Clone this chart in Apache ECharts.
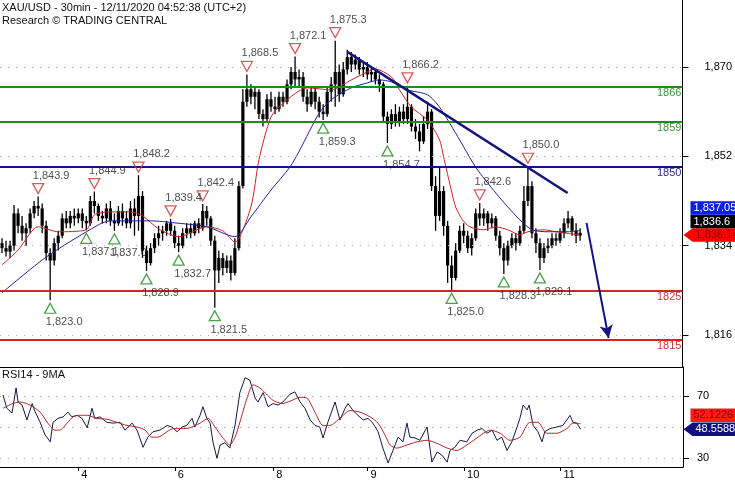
<!DOCTYPE html>
<html><head><meta charset="utf-8">
<script src="https://cdn.jsdelivr.net/npm/echarts@6/dist/echarts.min.js"></script>
<style>html,body{margin:0;padding:0;background:#fff}#c{width:735px;height:480px}</style>
</head><body><div id="c"></div>
<script>
// ---- DATA ----
const titleText = 'XAU/USD - 30min - 12/11/2020 04:52:38 (UTC+2)';
const subText = 'Research \u00a9 TRADING CENTRAL';
const rsiTitle = 'RSI14 - 9MA';

// bar rows: [open, close, low, high]
const bars = [
[1834.5,1833.5,1832.5,1835.5],[1833.5,1832.8,1831.8,1835.0],[1832.8,1834.0,1831.5,1835.0],[1834.0,1840.5,1833.0,1842.2],[1840.5,1838.0,1836.5,1841.5],
[1838.0,1836.5,1835.0,1840.0],[1836.5,1837.5,1834.0,1838.5],[1837.5,1840.5,1836.5,1841.5],[1840.5,1842.0,1839.5,1843.0],[1842.0,1841.5,1840.0,1843.9],
[1841.5,1838.0,1836.5,1842.5],[1838.0,1832.5,1831.0,1839.0],[1832.5,1831.0,1823.0,1833.5],[1831.0,1834.5,1830.0,1835.5],[1834.5,1836.0,1833.0,1837.0],
[1836.0,1839.5,1835.5,1840.5],[1839.5,1838.5,1837.5,1841.0],[1838.5,1840.0,1837.5,1841.0],[1840.0,1839.5,1838.0,1841.5],[1839.5,1840.5,1838.5,1841.5],
[1840.5,1839.0,1837.5,1841.5],[1839.0,1838.5,1837.1,1840.0],[1838.5,1843.0,1838.0,1844.0],[1843.0,1842.0,1840.5,1844.9],[1842.0,1840.0,1839.0,1842.5],
[1840.0,1839.5,1838.5,1841.0],[1839.5,1841.5,1838.5,1842.5],[1841.5,1839.0,1838.0,1843.0],[1839.0,1838.5,1837.0,1840.5],[1838.5,1841.0,1838.0,1842.0],
[1841.0,1839.5,1838.0,1842.5],[1839.5,1838.5,1837.5,1841.0],[1838.5,1841.5,1837.5,1843.0],[1841.5,1840.0,1836.0,1843.5],[1840.0,1844.0,1837.0,1848.2],
[1844.0,1833.0,1831.5,1845.0],[1833.0,1830.5,1828.9,1834.0],[1830.5,1833.5,1830.0,1834.5],[1833.5,1835.5,1832.5,1836.5],[1835.5,1836.5,1834.0,1838.0],
[1836.5,1837.0,1835.0,1838.0],[1837.0,1838.5,1836.0,1839.0],[1838.5,1837.0,1836.0,1839.4],[1837.0,1834.5,1833.5,1838.0],[1834.5,1834.0,1832.7,1836.0],
[1834.0,1836.5,1833.5,1837.5],[1836.5,1837.5,1835.5,1838.5],[1837.5,1836.5,1835.5,1838.5],[1836.5,1838.5,1836.0,1839.0],[1838.5,1837.5,1836.5,1839.5],
[1837.5,1841.0,1837.0,1842.4],[1841.0,1839.5,1838.0,1842.0],[1839.5,1835.0,1834.0,1840.0],[1835.0,1829.0,1821.5,1836.0],[1829.0,1831.5,1826.5,1833.0],
[1831.5,1829.5,1828.0,1832.5],[1829.5,1831.0,1828.5,1832.0],[1831.0,1828.5,1827.0,1832.0],[1828.5,1833.5,1828.0,1835.5],[1833.5,1846.0,1833.0,1847.0],
[1846.0,1863.0,1845.5,1865.5],[1863.0,1865.5,1862.0,1868.5],[1865.5,1864.0,1862.5,1866.5],[1864.0,1865.0,1861.5,1866.0],[1865.0,1860.5,1859.5,1865.5],
[1860.5,1859.5,1858.0,1861.5],[1859.5,1863.5,1859.0,1864.5],[1863.5,1862.0,1861.0,1865.0],[1862.0,1861.5,1860.5,1864.0],[1861.5,1864.0,1861.0,1865.0],
[1864.0,1863.0,1862.0,1865.0],[1863.0,1866.5,1862.5,1867.5],[1866.5,1869.0,1865.5,1870.0],[1869.0,1867.5,1866.0,1872.1],[1867.5,1868.0,1866.0,1869.5],
[1868.0,1864.0,1863.0,1869.0],[1864.0,1862.5,1861.0,1865.5],[1862.5,1865.0,1862.0,1866.0],[1865.0,1863.0,1861.5,1866.0],[1863.0,1861.0,1859.8,1864.0],
[1861.0,1860.5,1859.3,1862.5],[1860.5,1865.0,1860.0,1866.0],[1865.0,1866.5,1863.0,1868.0],[1866.5,1869.0,1862.0,1875.3],[1869.0,1864.5,1863.0,1870.5],
[1864.5,1869.5,1864.0,1871.0],[1869.5,1872.0,1868.5,1873.5],[1872.0,1870.5,1869.0,1873.0],[1870.5,1871.5,1869.5,1872.5],[1871.5,1869.5,1868.5,1872.0],
[1869.5,1870.0,1868.0,1871.0],[1870.0,1868.5,1867.5,1871.0],[1868.5,1869.0,1867.0,1870.0],[1869.0,1867.5,1866.5,1869.5],[1867.5,1866.5,1865.0,1868.5],
[1866.5,1860.0,1859.0,1867.0],[1860.0,1858.5,1854.7,1861.0],[1858.5,1860.5,1857.5,1861.5],[1860.5,1859.0,1858.0,1862.5],[1859.0,1861.0,1858.0,1862.0],
[1861.0,1859.5,1858.5,1862.5],[1859.5,1862.0,1858.5,1866.2],[1862.0,1858.0,1857.0,1862.5],[1858.0,1857.0,1855.5,1859.5],[1857.0,1855.0,1853.0,1858.5],
[1855.0,1858.5,1854.5,1860.0],[1858.5,1861.0,1857.5,1863.0],[1861.0,1846.0,1845.0,1861.5],[1846.0,1840.0,1837.0,1848.0],[1840.0,1845.0,1839.0,1849.8],
[1845.0,1838.0,1836.0,1846.0],[1838.0,1830.0,1826.5,1839.0],[1830.0,1827.5,1825.0,1832.0],[1827.5,1833.0,1827.0,1834.5],[1833.0,1837.0,1832.5,1838.0],
[1837.0,1836.0,1834.5,1838.5],[1836.0,1833.5,1832.5,1837.0],[1833.5,1835.5,1832.0,1836.5],[1835.5,1840.5,1835.0,1841.5],[1840.5,1839.5,1838.0,1842.6],
[1839.5,1840.5,1838.0,1841.5],[1840.5,1838.5,1837.0,1841.0],[1838.5,1839.5,1837.5,1840.5],[1839.5,1836.0,1835.0,1840.0],[1836.0,1833.5,1832.0,1837.0],
[1833.5,1831.0,1828.3,1834.5],[1831.0,1834.0,1830.0,1835.0],[1834.0,1835.5,1833.5,1836.5],[1835.5,1834.5,1833.0,1836.5],[1834.5,1837.0,1834.0,1838.0],
[1837.0,1843.0,1836.5,1846.0],[1843.0,1846.0,1842.0,1850.0],[1846.0,1836.5,1835.5,1847.0],[1836.5,1834.5,1832.5,1837.5],[1834.5,1831.5,1829.1,1835.5],
[1831.5,1833.5,1830.5,1834.5],[1833.5,1834.0,1832.5,1835.5],[1834.0,1835.5,1833.5,1836.5],[1835.5,1835.0,1834.0,1836.5],[1835.0,1836.5,1834.5,1837.5],
[1836.5,1838.5,1835.5,1839.5],[1838.5,1839.5,1837.5,1841.0],[1839.5,1837.0,1836.0,1840.0],[1837.0,1836.0,1834.5,1838.5],[1836.0,1836.6,1835.0,1837.5]
];

// moving averages [barIndex, value]
const maRed = [[0,1830.1],[4,1833.1],[9,1837.8],[14,1836.8],[21,1837.2],[23,1840.2],[27,1840.8],[32,1840.8],[35,1840.0],[39,1837.4],[44,1835.8],[51,1837.8],[55,1837],[58,1834.7],[62,1841.8],[64,1851.3],[67,1859.9],[70,1862.7],[76,1865.8],[82,1865.4],[87,1867.4],[92,1869.4],[93,1869.6],[97,1868.0],[99,1865.4],[102,1861.9],[106,1859.3],[109,1855.3],[110,1851.9],[111.5,1846.6],[113,1841.8],[114.7,1839.2],[116.5,1837.8],[120,1837.2],[123,1837.8],[126,1837.2],[129,1836.2],[131,1836.8],[135,1837.2],[138,1836.8],[144,1836.14]];
const maBlue = [[0,1824.5],[11,1831.7],[24,1838.2],[27,1839.0],[37,1839.0],[43,1838.6],[51,1837.8],[58,1835.8],[62,1839.8],[67,1845.2],[71.7,1849.8],[74.2,1853.3],[79,1860.7],[82,1863.4],[87,1865.8],[91,1866.8],[94,1867.4],[97,1867.0],[101,1865.4],[106,1864.4],[109,1861.9],[114,1855.3],[118,1849.8],[123,1844.6],[126,1841.8],[129,1839.2],[132,1837.2],[136,1836.8],[141,1836.8],[144,1837.05]];

// RSI14 and its 9MA [barIndex, value]
const rsi = [[0.25,70.5],[1.2,62],[2.5,59],[3.5,75],[4,66],[5,64],[6.2,54.5],[7.5,65],[8.2,60],[9.5,53],[10.7,45],[12,40.5],[12.7,53],[13.9,55.5],[15.2,56.5],[16.4,59.5],[17.4,56.5],[18.7,57.5],[19.9,55.5],[21.2,49.5],[22.4,62],[23.1,55.5],[24.4,56.5],[26.1,53],[27.6,52.5],[29.4,53],[30.6,48],[32.4,52.5],[33.6,48],[34.3,43],[35.1,37],[36.3,43.5],[37.6,47],[39.3,48],[41.1,51],[42.3,50],[43.6,47],[44.8,50],[46,51],[47.3,55.5],[48,50],[49.3,57.5],[50,63],[51,55.5],[51.8,52.5],[52.5,40.5],[53.5,30],[54.3,38.5],[55.5,40],[56.7,36.5],[58,51],[59.2,72],[60.5,81.5],[61.7,80],[63,68.5],[63.7,66],[65,72],[66.2,63],[67.5,65],[68.7,64],[69.9,66],[71.7,71],[72.9,72.5],[74.2,66],[75.4,62],[76.7,54.5],[77.9,51],[79.1,50],[79.9,43],[81.1,53],[82.9,66],[84.1,54.5],[85.4,62],[86.1,65],[87.4,60.5],[88.6,57.5],[89.9,54.5],[91.1,55.5],[92.3,52.5],[93.6,47],[94.8,36.5],[96.1,27],[97.3,35],[98.6,43.5],[99.8,40.5],[100.8,52.5],[101.5,43.5],[102.8,43],[104,41.5],[105.8,50],[107,27.5],[108.3,34],[109.5,32],[110.8,27.5],[111.5,35],[112.7,37],[114,41.5],[115.7,40.5],[117,46],[118.3,48],[119.5,49],[120.7,46],[122,48],[123.2,41.5],[124.4,43.5],[125.7,35],[126.9,40.5],[128.2,50],[128.9,55.5],[129.7,64],[130.7,61],[131.2,64],[132.2,51],[133.4,47],[134.4,40.5],[135.1,47],[136.4,49],[138.1,50],[139.6,51],[141.4,57.5],[142.1,53],[143.1,52.5],[144,48.5588]];
const rsiMa = [[0.25,62],[2.7,65],[4.5,66],[7,64],[9.5,59.5],[11.4,52.5],[13.2,48],[14.4,48],[16.2,52.5],[17.7,56.5],[19.4,57.5],[21.2,57.5],[23.6,55.5],[26.1,55],[28.6,53],[31.1,51],[33.6,50],[35.6,48],[37.3,43.5],[38.8,43.5],[41.1,47],[42.6,49],[44.8,49],[46.8,49.5],[49.3,52.5],[51.3,55.5],[53,50],[55,43],[56.7,38.5],[58,43.5],[59.2,53],[61,68.5],[62.5,77],[64.2,75],[66,70.5],[67.5,67],[69.7,65],[71.7,66.5],[74.2,69],[75.9,68.5],[77.9,59.5],[79.9,51],[81.6,51],[84.1,55.5],[86.6,60.5],[89.1,59.5],[91.6,56.5],[93.6,52.5],[95.3,45],[96.6,38.5],[98.3,36.5],[100.8,38.5],[103.3,40.5],[105.8,41.5],[108.3,39.5],[110.8,36.5],[113.2,35],[115.7,38.5],[118.2,43],[121.5,48],[124,46],[126.4,41.5],[128.9,43.5],[131.4,53],[133.4,53],[135.6,46],[138.1,46],[140.6,49],[142.1,52.5],[144,52.1226]];

// swing markers (bar indices)
const highMarks = [9,23,34,42,50,61,73,83,101,119,131];
const lowMarks = [12,21,28,36,44,53,80,96,112,125,134];

// levels
const levelValues = [1866,1859,1850,1825,1815];
const levelLineColors = ['#1c8c1c','#1c8c1c','#14147e','#c42a2a','#e02020'];
const levelTextColors = ['#3c963c','#3c963c','#2a2a8a','#c04040','#c04040'];

const trendLine = [[86.1,1873.0],[140.9,1844.6]];
const trendLabel = '1,840.7';
const arrowLine = [[145.6,1838.6],[151.1,1815.4]];

const priceTicks = [1816,1834,1852,1870];
const rsiTicks = [30,70];
const rsiGrid = [30,50,70];
const dayTickPos = [19,43,67.5,91,115,139];
const dayTickLabels = ['4','6','8','9','10','11'];

// ---- CHART ----
const FONT = '"Liberation Sans", Arial, sans-serif';
const commas = s => { const p = s.split('.'); p[0] = p[0].replace(/\B(?=(\d{3})+(?!\d))/g, ','); return p.join('.'); };
const chart = echarts.init(document.getElementById('c'));
const N_SLOTS = 170;

const candleSeries = {
  type:'custom', xAxisIndex:0, yAxisIndex:0, z:2, clip:true,
  data: bars.map((b,i)=>[i,b[0],b[1],b[2],b[3]]),
  encode:{x:0, y:[1,2,3,4]},
  renderItem:(params, api)=>{
    const x = api.value(0);
    const pO = api.coord([x, api.value(1)]), pC = api.coord([x, api.value(2)]);
    const pL = api.coord([x, api.value(3)]), pH = api.coord([x, api.value(4)]);
    const w = 3.2;
    return {type:'group', children:[
      {type:'line', shape:{x1:pL[0], y1:pL[1], x2:pH[0], y2:pH[1]}, style:{stroke:'#000', lineWidth:1.3}},
      {type:'rect', shape:{x:pO[0]-w/2, y:Math.min(pO[1],pC[1]), width:w, height:Math.max(1.5, Math.abs(pO[1]-pC[1]))}, style:{fill:'#000'}}
    ]};
  }
};

const txt = {fontFamily:FONT, fontSize:11, color:'#222'};

chart.setOption({
  animation:false,
  backgroundColor:'#fff',
  grid:[{left:0, right:52, top:0, height:367},{left:0, right:52, top:367, height:100}],
  xAxis:[
    {gridIndex:0, type:'value', min:-0.5, max:N_SLOTS-0.5, axisLine:{show:true,onZero:false,lineStyle:{color:'#000',width:1}}, axisTick:{show:false}, axisLabel:{show:false}, splitLine:{show:false}},
    {gridIndex:1, type:'value', min:-0.5, max:N_SLOTS-0.5, axisLine:{show:true,onZero:false,lineStyle:{color:'#000',width:1}},
     axisTick:{show:true, customValues:dayTickPos, length:4, lineStyle:{color:'#000'}},
     axisLabel:{show:true, customValues:dayTickPos, formatter:v=>dayTickLabels[dayTickPos.indexOf(v)], align:'left', margin:2, padding:[0,0,0,3], ...txt, color:'#000'},
     splitLine:{show:false}}
  ],
  yAxis:[
    {gridIndex:0, type:'value', position:'right', min:1809.55, max:1883.5, scale:true,
     axisLine:{show:true,onZero:false,lineStyle:{color:'#000'}},
     axisTick:{show:true, customValues:priceTicks, length:6, lineStyle:{color:'#000'}},
     axisLabel:{customValues:priceTicks, formatter:v=>commas(String(v)), margin:22, ...txt, color:'#000'},
     splitLine:{show:false}},
    {gridIndex:1, type:'value', position:'right', min:24.4, max:88.4,
     axisLine:{show:true,onZero:false,lineStyle:{color:'#000'}},
     axisTick:{show:true, customValues:rsiTicks, length:6, lineStyle:{color:'#000'}},
     axisLabel:{customValues:rsiTicks, margin:14, ...txt, color:'#000'},
     splitLine:{show:false}}
  ],
  series:[
    {type:'line', xAxisIndex:0, yAxisIndex:0, data:[], z:1, silent:true,
     markLine:{silent:true, symbol:'none', animation:false, label:{show:false},
       lineStyle:{color:'#a8a8a8', type:[1,7], width:1},
       data: priceTicks.map(v=>({yAxis:v}))}},
    {type:'line', xAxisIndex:1, yAxisIndex:1, data:[], z:1, silent:true,
     markLine:{silent:true, symbol:'none', animation:false, label:{show:false},
       lineStyle:{color:'#a8a8a8', type:[1,7], width:1},
       data: rsiGrid.map(v=>({yAxis:v}))}},
    candleSeries,
    {type:'line', xAxisIndex:0, yAxisIndex:0, data:maRed, showSymbol:false, smooth:0.25, z:3, lineStyle:{color:'#cc2424', width:1}},
    {type:'line', xAxisIndex:0, yAxisIndex:0, data:maBlue, showSymbol:false, smooth:0.25, z:3, lineStyle:{color:'#22229a', width:1}},
    {type:'line', xAxisIndex:0, yAxisIndex:0, data:[], z:4, silent:true,
     markLine:{silent:true, symbol:'none', animation:false,
       data: levelValues.map((v,k)=>({yAxis:v, lineStyle:{color:levelLineColors[k], width:2, type:'solid'},
         label:{show:true, position:'insideEndBottom', formatter:String(v), color:levelTextColors[k], fontFamily:FONT, fontSize:11, distance:[1,1]}}))}},
    {type:'line', xAxisIndex:0, yAxisIndex:0, z:5, showSymbol:false, symbol:'none',
     data:[trendLine[0], {value:trendLine[1], label:{show:true, position:'right', distance:1, offset:[0,3], formatter:trendLabel, ...txt}}],
     lineStyle:{color:'#14147e', width:2.5},
     markLine:{silent:true, animation:false, symbol:['none','arrow'], symbolSize:[10,13],
       lineStyle:{color:'#14147e', width:2, type:'solid'}, label:{show:false},
       data:[[{coord:arrowLine[0]},{coord:arrowLine[1]}]]}},
    {type:'scatter', xAxisIndex:0, yAxisIndex:0, z:6, symbol:'triangle', symbolRotate:180, symbolSize:[11,10], symbolOffset:[0,-8],
     itemStyle:{color:'rgba(255,255,255,0)', borderColor:'#cc3333', borderWidth:1.3},
     label:{show:true, position:'inside', offset:[13,-13], formatter:p=>p.value[2], ...txt},
     data: highMarks.map(i=>[i, bars[i][3], commas(bars[i][3].toFixed(1))])},
    {type:'scatter', xAxisIndex:0, yAxisIndex:0, z:6, symbol:'triangle', symbolSize:[11,10], symbolOffset:[0,8],
     itemStyle:{color:'rgba(255,255,255,0)', borderColor:'#1e8a1e', borderWidth:1.3},
     label:{show:true, position:'inside', offset:[14,14], formatter:p=>p.value[2], ...txt},
     data: lowMarks.map(i=>[i, bars[i][2], commas(bars[i][2].toFixed(1))])},
    {type:'line', xAxisIndex:1, yAxisIndex:1, data:rsi, showSymbol:false, z:3, lineStyle:{color:'#16164a', width:1}},
    {type:'line', xAxisIndex:1, yAxisIndex:1, data:rsiMa, showSymbol:false, smooth:0.25, z:4, lineStyle:{color:'#b02828', width:1}}
  ]
});

// last-value tags on the right axis
const lastBlue = maBlue[maBlue.length-1][1];
const lastRed = maRed[maRed.length-1][1];
const lastClose = bars[bars.length-1][1];
const lastRsi = rsi[rsi.length-1][1];
const lastRsiMa = rsiMa[rsiMa.length-1][1];
const ax = chart.convertToPixel({xAxisIndex:0}, N_SLOTS-0.5);
const W = 735, H = 13.5;
const font = '11px ' + FONT;
function arrowTag(y, fill, textColor, label){
  return [
    {type:'polygon', z:100, shape:{points:[[ax+1,y],[ax+10,y-H/2],[W,y-H/2],[W,y+H/2],[ax+10,y+H/2]]}, style:{fill:fill}},
    {type:'text', z:101, x:ax+13, y:y, style:{text:label, fill:textColor, font:font, verticalAlign:'middle', align:'left'}}
  ];
}
function boxTag(y, fill, textColor, label){
  return [
    {type:'rect', z:100, shape:{x:ax+8, y:y-H/2, width:W-ax-8, height:H}, style:{fill:fill}},
    {type:'text', z:101, x:ax+11, y:y, style:{text:label, fill:textColor, font:font, verticalAlign:'middle', align:'left'}}
  ];
}
const yRedTag = chart.convertToPixel({yAxisIndex:0}, lastRed);
const yRsiTag = chart.convertToPixel({yAxisIndex:1}, lastRsi);
const g = [].concat(
  arrowTag(yRedTag, '#ff0000', '#8a0000', commas(String(lastRed))),
  boxTag(yRedTag - H, '#000000', '#ffffff', commas(String(lastClose))),
  boxTag(yRedTag - 2*H, '#0a1ee6', '#ffffff', commas(String(lastBlue))),
  arrowTag(yRsiTag, '#10107e', '#ffffff', String(lastRsi)),
  boxTag(yRsiTag - H - 0.5, '#ff1a1a', '#8a0000', String(lastRsiMa)),
  [
    {type:'text', z:50, x:2, y:8, style:{text:titleText, fill:'#111', font:font, verticalAlign:'middle'}},
    {type:'text', z:50, x:2, y:21, style:{text:subText, fill:'#111', font:font, verticalAlign:'middle'}},
    {type:'text', z:50, x:2, y:375, style:{text:rsiTitle, fill:'#111', font:font, verticalAlign:'middle'}}
  ]
);
chart.setOption({graphic:g});
</script>
</body></html>
